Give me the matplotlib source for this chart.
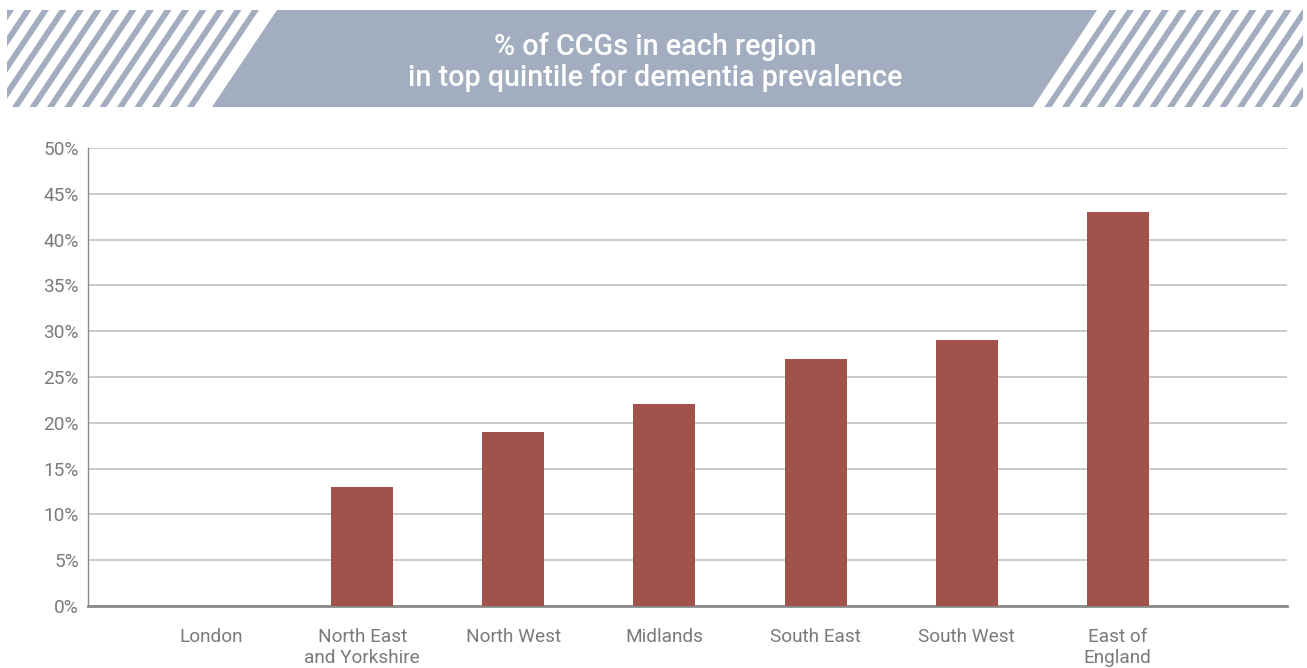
import numpy as np
import matplotlib.pyplot as plt
from matplotlib.patches import Polygon, Rectangle
from matplotlib.ticker import FuncFormatter

plt.rcParams['font.family'] = ['Roboto', 'DejaVu Sans']

regions = ['London', 'North East\nand Yorkshire', 'North West', 'Midlands',
           'South East', 'South West', 'East of\nEngland']
pct_top_quintile = [0, 13, 19, 22, 27, 29, 43]
title = '% of CCGs in each region\nin top quintile for dementia prevalence'

bar_color = '#a1524a'
band_color = '#a2adc0'
text_gray = '#7a7a7a'

W, H = 1307, 668
fig = plt.figure(figsize=(W / 100, H / 100), dpi=100)

# banner: striped ends with a slanted solid block in the middle
ban = fig.add_axes([0, 0, 1, 1], zorder=0)
ban.set_xlim(0, W)
ban.set_ylim(H, 0)
ban.axis('off')
y0, y1 = 10, 107
slant = 65
clip = Rectangle((7, y0), 1296, y1 - y0, transform=ban.transData)
for x in np.arange(7 - slant, 1310, 17.5):
    p = Polygon([(x, y1), (x + 7, y1), (x + 7 + slant, y0), (x + slant, y0)],
                closed=True, color=band_color, lw=0)
    ban.add_patch(p)
    p.set_clip_path(clip)
gap = 9
ban.add_patch(Polygon([(212 - gap, y1), (277 - gap, y0), (1097 + gap, y0), (1033 + gap, y1)],
                      closed=True, color='white', lw=0))
ban.add_patch(Polygon([(212, y1), (277, y0), (1097, y0), (1033, y1)],
                      closed=True, color=band_color, lw=0))
ban.text(655, 62, title, color='white', fontsize=20.7, fontweight='medium',
         ha='center', va='center', linespacing=1.12)

ax = fig.add_axes([88 / W, 1 - 606 / H, (1287 - 88) / W, (606 - 148) / H], zorder=1)
x = np.arange(len(regions))
ax.bar(x, pct_top_quintile, width=0.41, color=bar_color, zorder=3)
ax.set_xlim(-0.815, 7.12)
ax.set_ylim(0, 50)
ax.set_yticks(np.arange(0, 51, 5))
ax.yaxis.set_major_formatter(FuncFormatter(lambda v, _: f'{v:.0f}%'))
ax.set_xticks(x)
ax.set_xticklabels(regions)
ax.grid(axis='y', color='#bdbdbd', lw=1.1, zorder=0)
ax.tick_params(axis='both', length=0, labelsize=13.7, labelcolor=text_gray)
ax.tick_params(axis='x', pad=15.5)
ax.tick_params(axis='y', pad=6.5)
for s in ['top', 'right']:
    ax.spines[s].set_visible(False)
ax.spines['left'].set_color('#8a8a8a')
ax.spines['left'].set_linewidth(1)
ax.spines['bottom'].set_color('#8a8a8a')
ax.spines['bottom'].set_linewidth(2)
for lbl in ax.get_xticklabels():
    lbl.set_linespacing(1.22)

fig.savefig('out.png', dpi=100)
